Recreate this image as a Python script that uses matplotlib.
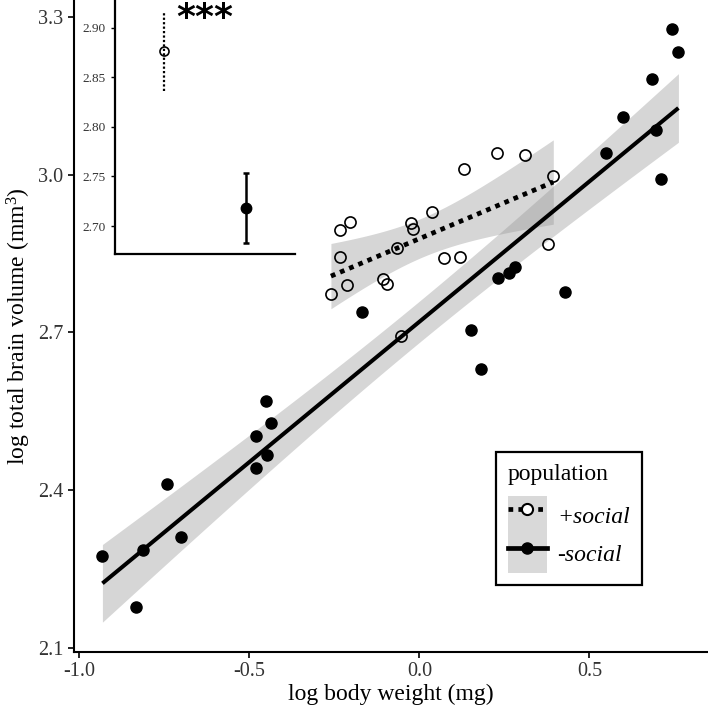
import numpy as np
import matplotlib
matplotlib.use("Agg")
import matplotlib.pyplot as plt
from matplotlib.lines import Line2D
from matplotlib.patches import Patch

plt.rcParams["font.family"] = ["Liberation Serif", "DejaVu Serif"]
plt.rcParams["mathtext.fontset"] = "custom"
plt.rcParams["mathtext.rm"] = "Liberation Serif"
plt.rcParams["mathtext.it"] = "Liberation Serif:italic"

# --- data ---
social_x = [-0.260, -0.233, -0.233, -0.214, -0.204, -0.106, -0.094, -0.065,
            -0.024, -0.018, 0.038, 0.074, 0.121, 0.132, 0.228, 0.311,
            0.394, 0.379, -0.054]
social_y = [2.773, 2.894, 2.844, 2.790, 2.909, 2.801, 2.792, 2.861,
            2.908, 2.896, 2.928, 2.842, 2.844, 3.010, 3.041, 3.038,
            2.997, 2.868, 2.693]

nonsocial_x = [-0.932, -0.833, -0.812, -0.742, -0.700, -0.479, -0.481, -0.449,
               -0.451, -0.436, -0.169, 0.152, 0.182, 0.232, 0.265, 0.282,
               0.429, 0.548, 0.600, 0.684, 0.695, 0.711, 0.744, 0.762]
nonsocial_y = [2.275, 2.178, 2.286, 2.412, 2.310, 2.442, 2.503, 2.466,
               2.569, 2.527, 2.738, 2.704, 2.630, 2.804, 2.813, 2.825,
               2.776, 3.041, 3.110, 3.181, 3.085, 2.991, 3.276, 3.233]

# inset: group means with error bars
inset_groups = ["+social", "-social"]
inset_mean = [2.8765, 2.7178]
inset_lo = [2.8365, 2.6826]
inset_hi = [2.9168, 2.7537]

# t quantiles (97.5%) for df = n - 2
T_CRIT = {17: 2.110, 22: 2.074}


def fit_band(x, y, n_grid=80):
    x = np.asarray(x)
    y = np.asarray(y)
    n = len(x)
    b, a = np.polyfit(x, y, 1)
    resid = y - (a + b * x)
    s = np.sqrt((resid ** 2).sum() / (n - 2))
    xg = np.linspace(x.min(), x.max(), n_grid)
    yg = a + b * xg
    se = s * np.sqrt(1 / n + (xg - x.mean()) ** 2 / ((x - x.mean()) ** 2).sum())
    t = T_CRIT[n - 2]
    return xg, yg, yg - t * se, yg + t * se


fig = plt.figure(figsize=(7.08, 7.08), dpi=100)
ax = fig.add_axes([74 / 708, 56 / 708, 634 / 708, 652 / 708])

band_kw = dict(color="#999999", alpha=0.4, linewidth=0)
dotted = (0, (1, 1.1))

xg, yg, lo, hi = fit_band(nonsocial_x, nonsocial_y)
ax.fill_between(xg, lo, hi, zorder=1, **band_kw)
ax.plot(xg, yg, color="black", lw=2.9, zorder=3, solid_capstyle="butt")

xg, yg, lo, hi = fit_band(social_x, social_y)
ax.fill_between(xg, lo, hi, zorder=1, **band_kw)
ax.plot(xg, yg, color="black", lw=3.4, linestyle=dotted,
        dash_capstyle="butt", zorder=3)

ax.plot(nonsocial_x, nonsocial_y, "o", color="black", ms=8, zorder=4)
ax.plot(social_x, social_y, "o", mfc="none", mec="black", mew=1.2, ms=8, zorder=4)

ax.set_xlim(-1.0156, 0.849)
ax.set_ylim(2.0923, 3.3318)
ax.set_xticks([-1.0, -0.5, 0.0, 0.5])
ax.set_yticks([2.1, 2.4, 2.7, 3.0, 3.3])
ax.xaxis.set_major_formatter(matplotlib.ticker.FormatStrFormatter("%.1f"))
ax.yaxis.set_major_formatter(matplotlib.ticker.FormatStrFormatter("%.1f"))
ax.tick_params(labelsize=14.5, length=4, width=1.2, color="black",
               labelcolor="#333333")
for side in ["top", "right"]:
    ax.spines[side].set_visible(False)
for side in ["left", "bottom"]:
    ax.spines[side].set_linewidth(1.5)
ax.set_xlabel("log body weight (mg)", fontsize=17, labelpad=2)
ax.set_ylabel("log total brain volume (mm$^3$)", fontsize=17, labelpad=4)

# legend
grey = Patch(facecolor="#d9d9d9", edgecolor="none")
h_soc = Line2D([], [], color="black", lw=3.4, linestyle=dotted,
               marker="o", mfc="white", mec="black", mew=1.5, ms=8)
h_non = Line2D([], [], color="black", lw=3.4, marker="o", ms=8)
leg = ax.legend([(grey, h_soc), (grey, h_non)], ["+social", "-social"],
                title="population", loc="upper left",
                bbox_to_anchor=(496 / 708, 1 - 452 / 708),
                bbox_transform=fig.transFigure, borderaxespad=0,
                fancybox=False, edgecolor="black", framealpha=1,
                fontsize=17, title_fontsize=17, handlelength=1.65,
                handleheight=2.15, labelspacing=0, borderpad=0.5,
                handletextpad=0.45)
leg._legend_box.align = "left"
leg._legend_box.sep = 8
leg.get_frame().set_linewidth(1.6)
for t in leg.get_texts():
    t.set_fontstyle("italic")

# inset
ins = fig.add_axes([115 / 708, 454 / 708, 180 / 708, 254 / 708])
ins.patch.set_alpha(0)
pos = [1, 2]
ins.vlines(pos[0], inset_lo[0], inset_hi[0], color="black", lw=1.6,
           linestyle=(0, (1, 1)))
ins.plot(pos[0], inset_mean[0], "o", mfc="none", mec="black", mew=1.2, ms=6.5)
ins.errorbar(pos[1], inset_mean[1],
             yerr=[[inset_mean[1] - inset_lo[1]], [inset_hi[1] - inset_mean[1]]],
             fmt="o", color="black", ms=7.5, lw=1.8, capsize=2.5, capthick=1.8)
ins.set_xlim(0.4, 2.6)
ins.set_ylim(2.6718, 2.928)
ins.set_xticks([])
ins.set_yticks([2.70, 2.75, 2.80, 2.85, 2.90])
ins.yaxis.set_major_formatter(matplotlib.ticker.FormatStrFormatter("%.2f"))
ins.tick_params(labelsize=9.5, length=3, width=1, labelcolor="#333333")
for side in ["top", "right"]:
    ins.spines[side].set_visible(False)
for side in ["left", "bottom"]:
    ins.spines[side].set_linewidth(1.6)
fig.text(205 / 708, 1 - 1 / 708, "***", fontsize=26, ha="center", va="top",
         family="DejaVu Sans", fontweight="bold")

fig.savefig("out.png", dpi=100)
